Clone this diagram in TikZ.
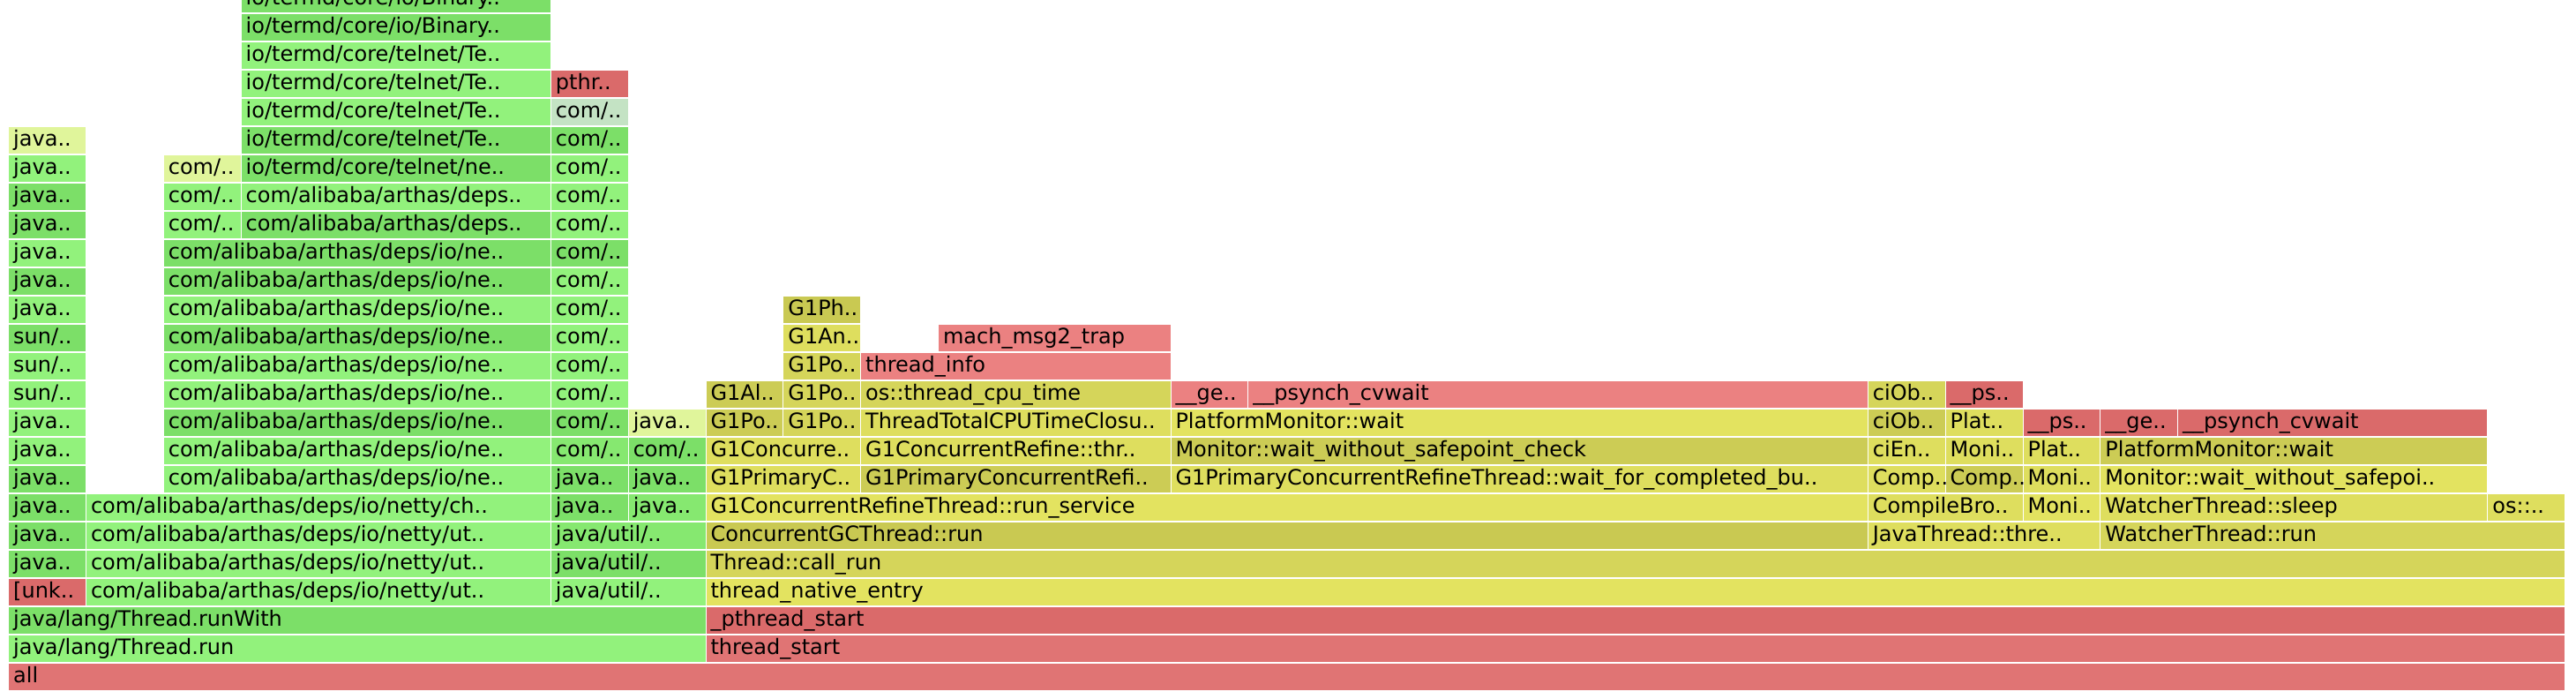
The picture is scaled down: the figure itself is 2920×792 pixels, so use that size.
\documentclass[tikz,border=0pt]{standalone}
\usepackage{fontspec}
\setmainfont{DejaVu Sans}
\hyphenpenalty=10000
\exhyphenpenalty=10000
\newcommand{\cw}{87.82}
\newcommand{\rh}{32}
\definecolor{jb}{RGB}{146,242,124}
\definecolor{jm}{RGB}{134,232,112}
\definecolor{jd}{RGB}{124,223,104}
\definecolor{ji}{RGB}{224,245,155}
\definecolor{jc}{RGB}{196,227,196}
\definecolor{ca}{RGB}{227,227,96}
\definecolor{cb}{RGB}{222,222,94}
\definecolor{cc}{RGB}{213,213,90}
\definecolor{cd}{RGB}{204,204,85}
\definecolor{ce}{RGB}{201,201,82}
\definecolor{na}{RGB}{224,116,116}
\definecolor{nb}{RGB}{235,129,129}
\definecolor{nc}{RGB}{218,106,106}

\begin{document}
\begin{tikzpicture}[x=1pt, y=1pt, stack/.style={rectangle, anchor=south west, minimum width=#1*\cw-1, text width=#1*\cw-11, minimum height=30, inner xsep=5pt, inner ysep=0pt, text height=19pt, text depth=5pt, align=left, font=\fontsize{24}{28}\selectfont}]
    \useasboundingbox (-10,-10) rectangle (2910,782);
    \clip (-10,-10) rectangle (2910,782);

    % Row 0
    \node[stack=33, fill=na] (frame-0-1) at (0*\cw,0*\rh) {all};

    % Row 1
    \node[stack=9, fill=jb] (frame-1-1) at (0*\cw,1*\rh) {java/lang/Thread.run};
    \node[stack=24, fill=na] (frame-1-2) at (9*\cw,1*\rh) {thread\_start};

    % Row 2
    \node[stack=9, fill=jd] (frame-2-1) at (0*\cw,2*\rh) {java/lang/Thread.runWith};
    \node[stack=24, fill=nc] (frame-2-2) at (9*\cw,2*\rh) {\_pthread\_start};

    % Row 3
    \node[stack=1, fill=nc] (frame-3-1) at (0*\cw,3*\rh) {[unk..};
    \node[stack=6, fill=jb] (frame-3-2) at (1*\cw,3*\rh) {com/alibaba/arthas/deps/io/netty/ut..};
    \node[stack=2, fill=jb] (frame-3-3) at (7*\cw,3*\rh) {java/util/..};
    \node[stack=24, fill=ca] (frame-3-4) at (9*\cw,3*\rh) {thread\_native\_entry};

    % Row 4
    \node[stack=1, fill=jd] (frame-4-1) at (0*\cw,4*\rh) {java..};
    \node[stack=6, fill=jb] (frame-4-2) at (1*\cw,4*\rh) {com/alibaba/arthas/deps/io/netty/ut..};
    \node[stack=2, fill=jd] (frame-4-3) at (7*\cw,4*\rh) {java/util/..};
    \node[stack=24, fill=cc] (frame-4-4) at (9*\cw,4*\rh) {Thread::call\_run};

    % Row 5
    \node[stack=1, fill=jd] (frame-5-1) at (0*\cw,5*\rh) {java..};
    \node[stack=6, fill=jb] (frame-5-2) at (1*\cw,5*\rh) {com/alibaba/arthas/deps/io/netty/ut..};
    \node[stack=2, fill=jm] (frame-5-3) at (7*\cw,5*\rh) {java/util/..};
    \node[stack=15, fill=ce] (frame-5-4) at (9*\cw,5*\rh) {ConcurrentGCThread::run};
    \node[stack=3, fill=cb] (frame-5-5) at (24*\cw,5*\rh) {JavaThread::thre..};
    \node[stack=6, fill=cc] (frame-5-6) at (27*\cw,5*\rh) {WatcherThread::run};

    % Row 6
    \node[stack=1, fill=jd] (frame-6-1) at (0*\cw,6*\rh) {java..};
    \node[stack=6, fill=jb] (frame-6-2) at (1*\cw,6*\rh) {com/alibaba/arthas/deps/io/netty/ch..};
    \node[stack=1, fill=jd] (frame-6-3) at (7*\cw,6*\rh) {java..};
    \node[stack=1, fill=jm] (frame-6-4) at (8*\cw,6*\rh) {java..};
    \node[stack=15, fill=ca] (frame-6-5) at (9*\cw,6*\rh) {G1ConcurrentRefineThread::run\_service};
    \node[stack=2, fill=cb] (frame-6-6) at (24*\cw,6*\rh) {CompileBro..};
    \node[stack=1, fill=ca] (frame-6-7) at (26*\cw,6*\rh) {Moni..};
    \node[stack=5, fill=cb] (frame-6-8) at (27*\cw,6*\rh) {WatcherThread::sleep};
    \node[stack=1, fill=cb] (frame-6-9) at (32*\cw,6*\rh) {os::..};

    % Row 7
    \node[stack=1, fill=jd] (frame-7-1) at (0*\cw,7*\rh) {java..};
    \node[stack=5, fill=jb] (frame-7-2) at (2*\cw,7*\rh) {com/alibaba/arthas/deps/io/ne..};
    \node[stack=1, fill=jd] (frame-7-3) at (7*\cw,7*\rh) {java..};
    \node[stack=1, fill=jd] (frame-7-4) at (8*\cw,7*\rh) {java..};
    \node[stack=2, fill=cb] (frame-7-5) at (9*\cw,7*\rh) {G1PrimaryC..};
    \node[stack=4, fill=cd] (frame-7-6) at (11*\cw,7*\rh) {G1PrimaryConcurrentRefi..};
    \node[stack=9, fill=cb] (frame-7-7) at (15*\cw,7*\rh) {G1PrimaryConcurrentRefineThread::wait\_for\_completed\_bu..};
    \node[stack=1, fill=cb] (frame-7-8) at (24*\cw,7*\rh) {Comp..};
    \node[stack=1, fill=cd] (frame-7-9) at (25*\cw,7*\rh) {Comp..};
    \node[stack=1, fill=cb] (frame-7-10) at (26*\cw,7*\rh) {Moni..};
    \node[stack=5, fill=ca] (frame-7-11) at (27*\cw,7*\rh) {Monitor::wait\_without\_safepoi..};

    % Row 8
    \node[stack=1, fill=jb] (frame-8-1) at (0*\cw,8*\rh) {java..};
    \node[stack=5, fill=jb] (frame-8-2) at (2*\cw,8*\rh) {com/alibaba/arthas/deps/io/ne..};
    \node[stack=1, fill=jm] (frame-8-3) at (7*\cw,8*\rh) {com/..};
    \node[stack=1, fill=jd] (frame-8-4) at (8*\cw,8*\rh) {com/..};
    \node[stack=2, fill=cb] (frame-8-5) at (9*\cw,8*\rh) {G1Concurre..};
    \node[stack=4, fill=cb] (frame-8-6) at (11*\cw,8*\rh) {G1ConcurrentRefine::thr..};
    \node[stack=9, fill=cd] (frame-8-7) at (15*\cw,8*\rh) {Monitor::wait\_without\_safepoint\_check};
    \node[stack=1, fill=cb] (frame-8-8) at (24*\cw,8*\rh) {ciEn..};
    \node[stack=1, fill=cb] (frame-8-9) at (25*\cw,8*\rh) {Moni..};
    \node[stack=1, fill=cb] (frame-8-10) at (26*\cw,8*\rh) {Plat..};
    \node[stack=5, fill=cd] (frame-8-11) at (27*\cw,8*\rh) {PlatformMonitor::wait};

    % Row 9
    \node[stack=1, fill=jb] (frame-9-1) at (0*\cw,9*\rh) {java..};
    \node[stack=5, fill=jd] (frame-9-2) at (2*\cw,9*\rh) {com/alibaba/arthas/deps/io/ne..};
    \node[stack=1, fill=jd] (frame-9-3) at (7*\cw,9*\rh) {com/..};
    \node[stack=1, fill=ji] (frame-9-4) at (8*\cw,9*\rh) {java..};
    \node[stack=1, fill=cd] (frame-9-5) at (9*\cw,9*\rh) {G1Po..};
    \node[stack=1, fill=cc] (frame-9-6) at (10*\cw,9*\rh) {G1Po..};
    \node[stack=4, fill=cb] (frame-9-7) at (11*\cw,9*\rh) {ThreadTotalCPUTimeClosu..};
    \node[stack=9, fill=ca] (frame-9-8) at (15*\cw,9*\rh) {PlatformMonitor::wait};
    \node[stack=1, fill=cd] (frame-9-9) at (24*\cw,9*\rh) {ciOb..};
    \node[stack=1, fill=cb] (frame-9-10) at (25*\cw,9*\rh) {Plat..};
    \node[stack=1, fill=nc] (frame-9-11) at (26*\cw,9*\rh) {\_\_ps..};
    \node[stack=1, fill=nc] (frame-9-12) at (27*\cw,9*\rh) {\_\_ge..};
    \node[stack=4, fill=nc] (frame-9-13) at (28*\cw,9*\rh) {\_\_psynch\_cvwait};

    % Row 10
    \node[stack=1, fill=jb] (frame-10-1) at (0*\cw,10*\rh) {sun/..};
    \node[stack=5, fill=jb] (frame-10-2) at (2*\cw,10*\rh) {com/alibaba/arthas/deps/io/ne..};
    \node[stack=1, fill=jb] (frame-10-3) at (7*\cw,10*\rh) {com/..};
    \node[stack=1, fill=cd] (frame-10-4) at (9*\cw,10*\rh) {G1Al..};
    \node[stack=1, fill=cc] (frame-10-5) at (10*\cw,10*\rh) {G1Po..};
    \node[stack=4, fill=cc] (frame-10-6) at (11*\cw,10*\rh) {os::thread\_cpu\_time};
    \node[stack=1, fill=nb] (frame-10-7) at (15*\cw,10*\rh) {\_\_ge..};
    \node[stack=8, fill=nb] (frame-10-8) at (16*\cw,10*\rh) {\_\_psynch\_cvwait};
    \node[stack=1, fill=cc] (frame-10-9) at (24*\cw,10*\rh) {ciOb..};
    \node[stack=1, fill=nc] (frame-10-10) at (25*\cw,10*\rh) {\_\_ps..};

    % Row 11
    \node[stack=1, fill=jb] (frame-11-1) at (0*\cw,11*\rh) {sun/..};
    \node[stack=5, fill=jb] (frame-11-2) at (2*\cw,11*\rh) {com/alibaba/arthas/deps/io/ne..};
    \node[stack=1, fill=jb] (frame-11-3) at (7*\cw,11*\rh) {com/..};
    \node[stack=1, fill=cc] (frame-11-4) at (10*\cw,11*\rh) {G1Po..};
    \node[stack=4, fill=nb] (frame-11-5) at (11*\cw,11*\rh) {thread\_info};

    % Row 12
    \node[stack=1, fill=jd] (frame-12-1) at (0*\cw,12*\rh) {sun/..};
    \node[stack=5, fill=jd] (frame-12-2) at (2*\cw,12*\rh) {com/alibaba/arthas/deps/io/ne..};
    \node[stack=1, fill=jb] (frame-12-3) at (7*\cw,12*\rh) {com/..};
    \node[stack=1, fill=cb] (frame-12-4) at (10*\cw,12*\rh) {G1An..};
    \node[stack=3, fill=nb] (frame-12-5) at (12*\cw,12*\rh) {mach\_msg2\_trap};

    % Row 13
    \node[stack=1, fill=jb] (frame-13-1) at (0*\cw,13*\rh) {java..};
    \node[stack=5, fill=jb] (frame-13-2) at (2*\cw,13*\rh) {com/alibaba/arthas/deps/io/ne..};
    \node[stack=1, fill=jb] (frame-13-3) at (7*\cw,13*\rh) {com/..};
    \node[stack=1, fill=ce] (frame-13-4) at (10*\cw,13*\rh) {G1Ph..};

    % Row 14
    \node[stack=1, fill=jd] (frame-14-1) at (0*\cw,14*\rh) {java..};
    \node[stack=5, fill=jd] (frame-14-2) at (2*\cw,14*\rh) {com/alibaba/arthas/deps/io/ne..};
    \node[stack=1, fill=jb] (frame-14-3) at (7*\cw,14*\rh) {com/..};

    % Row 15
    \node[stack=1, fill=jb] (frame-15-1) at (0*\cw,15*\rh) {java..};
    \node[stack=5, fill=jd] (frame-15-2) at (2*\cw,15*\rh) {com/alibaba/arthas/deps/io/ne..};
    \node[stack=1, fill=jd] (frame-15-3) at (7*\cw,15*\rh) {com/..};

    % Row 16
    \node[stack=1, fill=jd] (frame-16-1) at (0*\cw,16*\rh) {java..};
    \node[stack=1, fill=jb] (frame-16-2) at (2*\cw,16*\rh) {com/..};
    \node[stack=4, fill=jd] (frame-16-3) at (3*\cw,16*\rh) {com/alibaba/arthas/deps..};
    \node[stack=1, fill=jb] (frame-16-4) at (7*\cw,16*\rh) {com/..};

    % Row 17
    \node[stack=1, fill=jd] (frame-17-1) at (0*\cw,17*\rh) {java..};
    \node[stack=1, fill=jb] (frame-17-2) at (2*\cw,17*\rh) {com/..};
    \node[stack=4, fill=jb] (frame-17-3) at (3*\cw,17*\rh) {com/alibaba/arthas/deps..};
    \node[stack=1, fill=jb] (frame-17-4) at (7*\cw,17*\rh) {com/..};

    % Row 18
    \node[stack=1, fill=jb] (frame-18-1) at (0*\cw,18*\rh) {java..};
    \node[stack=1, fill=ji] (frame-18-2) at (2*\cw,18*\rh) {com/..};
    \node[stack=4, fill=jd] (frame-18-3) at (3*\cw,18*\rh) {io/termd/core/telnet/ne..};
    \node[stack=1, fill=jb] (frame-18-4) at (7*\cw,18*\rh) {com/..};

    % Row 19
    \node[stack=1, fill=ji] (frame-19-1) at (0*\cw,19*\rh) {java..};
    \node[stack=4, fill=jd] (frame-19-2) at (3*\cw,19*\rh) {io/termd/core/telnet/Te..};
    \node[stack=1, fill=jd] (frame-19-3) at (7*\cw,19*\rh) {com/..};

    % Row 20
    \node[stack=4, fill=jb] (frame-20-1) at (3*\cw,20*\rh) {io/termd/core/telnet/Te..};
    \node[stack=1, fill=jc] (frame-20-2) at (7*\cw,20*\rh) {com/..};

    % Row 21
    \node[stack=4, fill=jb] (frame-21-1) at (3*\cw,21*\rh) {io/termd/core/telnet/Te..};
    \node[stack=1, fill=nc] (frame-21-2) at (7*\cw,21*\rh) {pthr..};

    % Row 22
    \node[stack=4, fill=jb] (frame-22-1) at (3*\cw,22*\rh) {io/termd/core/telnet/Te..};

    % Row 23
    \node[stack=4, fill=jd] (frame-23-1) at (3*\cw,23*\rh) {io/termd/core/io/Binary..};

    % Row 24
    \node[stack=4, fill=jd] (frame-24-1) at (3*\cw,24*\rh) {io/termd/core/io/Binary..};

\end{tikzpicture}
\end{document}
